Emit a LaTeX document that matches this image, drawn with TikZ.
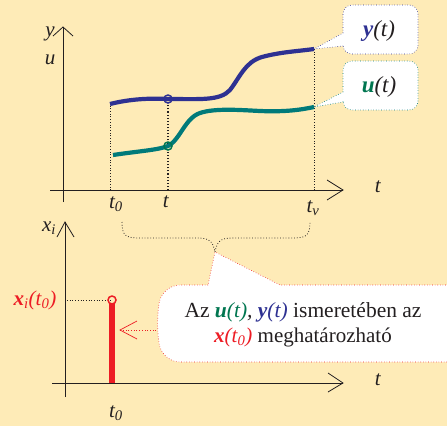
\documentclass[tikz,border=0pt]{standalone}
\usepackage{fontspec}
\setmainfont{Liberation Serif}
\definecolor{bg}{RGB}{254,235,183}
\definecolor{yblue}{RGB}{46,49,146}
\definecolor{uteal}{RGB}{0,122,122}
\definecolor{ugreen}{RGB}{0,118,80}
\definecolor{xred}{RGB}{237,28,36}
\definecolor{ink}{RGB}{35,31,32}
\begin{document}
\begin{tikzpicture}[x=1pt,y=-1pt,
  font=\fontsize{21}{25}\selectfont, text=ink,
  axis/.style={draw=ink,line width=0.8pt},
  guide/.style={draw=ink,dotted,line width=0.7pt},
  curveY/.style={draw=yblue,line width=4.2pt},
  curveU/.style={draw=uteal,line width=4.2pt},
  callY/.style={draw=yblue,dotted,fill=white,line width=0.6pt},
  callU/.style={draw=uteal,dotted,fill=white,line width=0.6pt},
  callX/.style={draw=xred,dotted,fill=white,line width=0.6pt},
  lbl/.style={inner sep=0pt}]
\fill[bg] (0,0) rectangle (447,426);
\useasboundingbox (0,0) rectangle (447,426);
\clip (0,0) rectangle (447,426);

% ---------- top plot ----------
\coordinate (ay0) at (63,202); \coordinate (ay1) at (63,27);
\coordinate (at0) at (50,190); \coordinate (at1) at (343,190);
\draw[axis] (ay0) -- (ay1);
\draw[axis] (53,36) -- (ay1) -- (73,36);
\draw[axis] (at0) -- (at1);
\draw[axis] (327,180) -- (at1) -- (327,200);

\node[lbl] (ly) at (50,34) {\textit{y}};
\node[lbl] (lu) at (50,60) {\textit{u}};
\node[lbl] (lt) at (378,187) {\textit{t}};
\node[lbl] (lt0) at (116,204) {\textit{t\textsubscript{0}}};
\node[lbl] (ltt) at (166,202) {\textit{t}};
\node[lbl] (ltv) at (313,208) {\textit{t\textsubscript{v}}};

\coordinate (y0) at (110,104);
\coordinate (yt) at (168,99);
\coordinate (yv) at (314,49);
\coordinate (u0) at (113,155);
\coordinate (ut) at (168,146);
\coordinate (uv) at (314,107);

\draw[guide] (110,190) -- (y0);
\draw[guide,line width=1.1pt] (168,190) -- (yt);
\draw[guide] (314,190) -- (yv);

\draw[curveY] (y0) .. controls (130,99) and (150,98) .. (yt)
  .. controls (200,99) and (220,101) .. (230,90)
  .. controls (240,77) and (245,62) .. (262,57)
  .. controls (280,52) and (300,51) .. (yv);
\draw[curveU] (u0) .. controls (140,151) and (158,150) .. (ut)
  .. controls (180,140) and (185,118) .. (200,113)
  .. controls (215,108) and (240,110) .. (260,111)
  .. controls (285,112) and (300,110) .. (uv);

\draw[yblue,line width=1.5pt] (yt) circle[radius=4];
\draw[ugreen,line width=1.5pt] (ut) circle[radius=4];

% callouts
\draw[callY] (343,33) [rounded corners=9pt] -- (343,5) -- (418,5) -- (418,54) -- (343,54) [sharp corners] -- (343,46) -- (yv) -- cycle;
\draw[callU] (343,92) [rounded corners=9pt] -- (343,61) -- (418,61) -- (418,110) -- (343,110) [sharp corners] -- (343,102) -- (uv) -- cycle;
\node[lbl] (ty) at (379,31) {\fontsize{23}{26}\selectfont{\color{yblue}\bfseries\itshape y}\textit{(t)}};
\node[lbl] (tu) at (379,87) {\fontsize{23}{26}\selectfont{\color{ugreen}\bfseries\itshape u}\textit{(t)}};

% ---------- brace ----------
\coordinate (bL) at (122,222);
\coordinate (bR) at (310,222);
\coordinate (bT) at (215,252);
\draw[guide,line width=0.8pt] (bL) .. controls (122,236) and (126,238) .. (140,238) -- (198,238)
  .. controls (210,238) and (213,242) .. (bT)
  .. controls (217,242) and (220,238) .. (232,238) -- (292,238)
  .. controls (306,238) and (310,236) .. (bR);

% ---------- bottom plot ----------
\coordinate (by0) at (65,397); \coordinate (by1) at (65,222);
\coordinate (bt0) at (52,383); \coordinate (bt1) at (343,383);
\draw[axis] (by0) -- (by1);
\draw[axis] (57,237) -- (by1) -- (74,237);
\draw[axis] (bt0) -- (bt1);
\draw[axis] (328,373) -- (bt1) -- (328,392);

\node[lbl] (lxi) at (49,228) {\textit{x\textsubscript{i}}};
\node[lbl] (lbt) at (378,380) {\textit{t}};
\node[lbl] (lbt0) at (116,413) {\textit{t\textsubscript{0}}};

\coordinate (xtop) at (112,300);
\coordinate (xbot) at (112,383);
\draw[guide] (67,300) -- (xtop);
\draw[xred,line width=5.5pt] (xbot) -- (112,303);
\draw[xred,line width=1.5pt] (xtop) circle[radius=4];
\node[lbl,text=xred] (lxt) at (35,300) {{\bfseries\itshape x}\textsubscript{\itshape i}\textit{(t\textsubscript{0})}};

% big callout
\draw[callX] (208,285) [rounded corners=18pt] -- (162,285) -- (156,323) -- (162,362) -- (470,362) -- (470,285) [sharp corners] -- (280,285) -- (bT) -- cycle;
\node[lbl,align=center] (tx) at (303,325) {\fontsize{21.5}{25}\selectfont Az {\color{ugreen}\bfseries\itshape u}\textcolor{ugreen}{\textit{(t)}}\textit{,} {\color{yblue}\bfseries\itshape y}\textcolor{yblue}{\textit{(t)}} ismeretében az\\[0pt]
  {\color{xred}\bfseries\itshape x}\textcolor{xred}{\textit{(t\textsubscript{0})}} meghatározható};

\coordinate (ae) at (156,330);
\coordinate (ah) at (120,330);
\draw[xred,dotted,line width=0.7pt] (ae) -- (ah);
\draw[xred,line width=0.7pt] (137,321) -- (ah) -- (137,339);
\end{tikzpicture}
\end{document}
